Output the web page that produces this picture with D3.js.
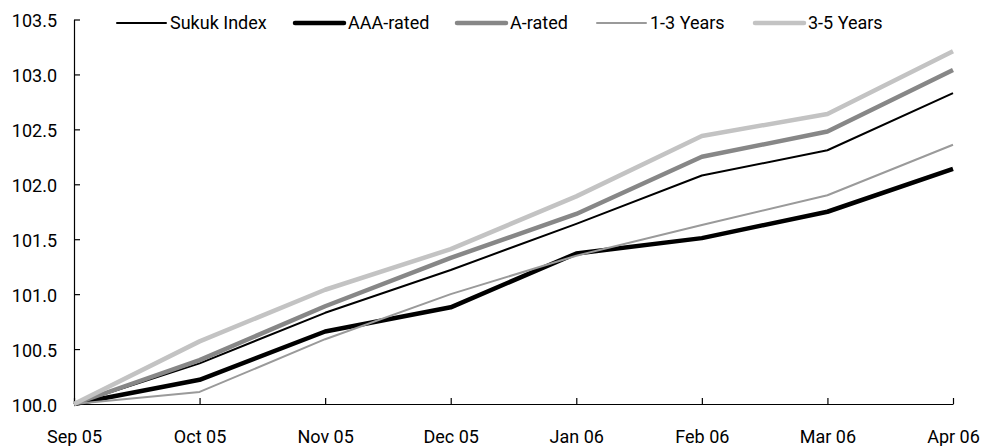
<!DOCTYPE html>
<html>
<head>
<meta charset="utf-8">
<script src="https://cdn.jsdelivr.net/npm/d3@7"></script>
<style>
  html, body { margin: 0; padding: 0; background: #fff; }
  svg text { font-family: Roboto, "Liberation Sans", sans-serif; fill: #000; }
</style>
</head>
<body>
<svg id="chart" width="981" height="446"></svg>
<script>
// Months on the x axis
const months = ["Sep 05", "Oct 05", "Nov 05", "Dec 05", "Jan 06", "Feb 06", "Mar 06", "Apr 06"];

// Index levels (Sep 05 = 100)
const sukukIndex = [100.00, 100.37, 100.83, 101.22, 101.64, 102.08, 102.31, 102.83];
const aaaRated   = [100.00, 100.22, 100.66, 100.88, 101.37, 101.51, 101.75, 102.14];
const aRated     = [100.00, 100.40, 100.89, 101.33, 101.73, 102.25, 102.48, 103.04];
const years1to3  = [100.00, 100.11, 100.59, 101.00, 101.35, 101.63, 101.90, 102.36];
const years3to5  = [100.00, 100.57, 101.04, 101.41, 101.89, 102.44, 102.64, 103.21];

const yTicks = [100.0, 100.5, 101.0, 101.5, 102.0, 102.5, 103.0, 103.5];

const series = [
  { name: "Sukuk Index", values: sukukIndex, color: "#000000", width: 2 },
  { name: "AAA-rated",   values: aaaRated,   color: "#000000", width: 4.5 },
  { name: "A-rated",     values: aRated,     color: "#878787", width: 4.5 },
  { name: "1-3 Years",   values: years1to3,  color: "#9a9a9a", width: 2 },
  { name: "3-5 Years",   values: years3to5,  color: "#c3c3c3", width: 4.5 }
];

const svg = d3.select("#chart");
const plot = { left: 74, right: 953, top: 19.5, bottom: 404 };

const x = d3.scalePoint().domain(months).range([plot.left, plot.right]);
const y = d3.scaleLinear().domain([100, 103.5]).range([plot.bottom, plot.top]);

// Y axis: ticks pointing inward
const yAxis = svg.append("g")
  .attr("transform", `translate(${plot.left},0)`)
  .call(d3.axisLeft(y).tickValues(yTicks).tickFormat(d3.format(".1f")).tickSizeInner(-6).tickSizeOuter(0).tickPadding(17));
yAxis.attr("font-family", null).attr("font-size", null);
yAxis.select(".domain").attr("stroke", "#000").attr("stroke-width", 1.2);
yAxis.selectAll(".tick line").attr("stroke", "#000").attr("stroke-width", 1.2);
yAxis.selectAll(".tick text").attr("font-size", 18).attr("dy", "0.4em");

// X axis: ticks pointing up
const xAxis = svg.append("g")
  .attr("transform", `translate(0,${plot.bottom})`)
  .call(d3.axisBottom(x).tickSizeInner(-6).tickSizeOuter(0).tickPadding(26));
xAxis.attr("font-family", null).attr("font-size", null);
xAxis.select(".domain").attr("stroke", "#000").attr("stroke-width", 1.2);
xAxis.selectAll(".tick line").attr("stroke", "#000").attr("stroke-width", 1.2);
xAxis.selectAll(".tick text").attr("font-size", 18);

// Lines
const line = d3.line().x((d, i) => x(months[i])).y(d => y(d));
svg.append("g").selectAll("path")
  .data(series)
  .join("path")
  .attr("d", d => line(d.values))
  .attr("fill", "none")
  .attr("stroke", d => d.color)
  .attr("stroke-width", d => d.width)
  .attr("stroke-linejoin", "round");

// Legend across the top
const legendX = [117, 295, 457, 597, 755];
const legend = svg.append("g").selectAll("g")
  .data(series)
  .join("g")
  .attr("transform", (d, i) => `translate(${legendX[i]},23)`);
legend.append("line")
  .attr("x1", 0).attr("x2", 49)
  .attr("stroke", d => d.color)
  .attr("stroke-width", d => d.width)
  .attr("stroke-linecap", "round");
legend.append("text")
  .attr("x", 53).attr("y", 0).attr("dy", "0.36em")
  .attr("font-size", 18)
  .text(d => d.name);
</script>
</body>
</html>
